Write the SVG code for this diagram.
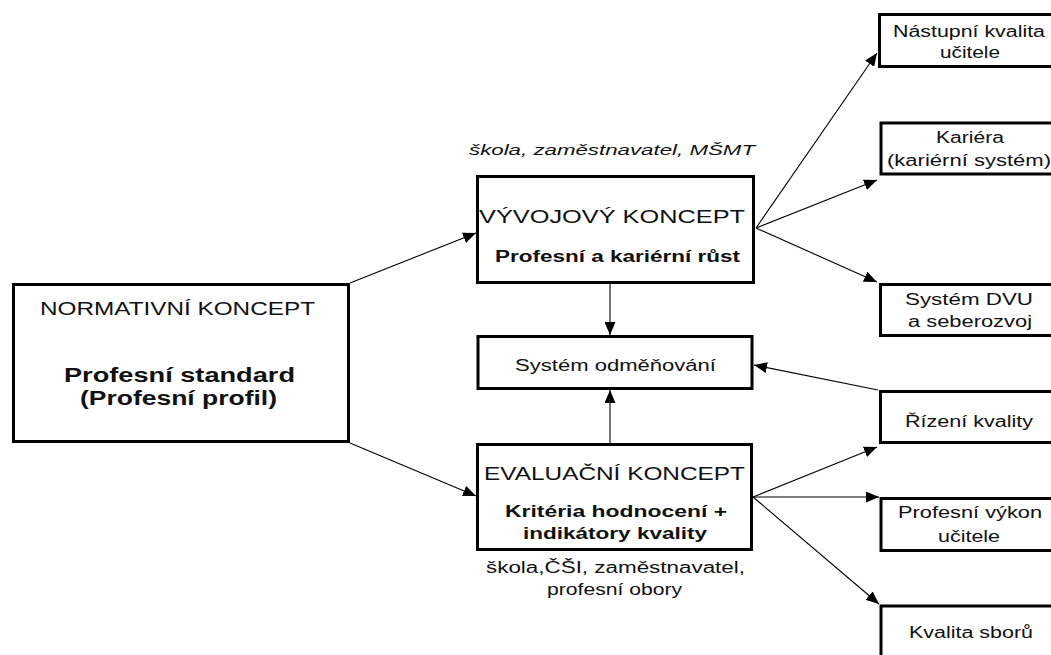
<svg xmlns="http://www.w3.org/2000/svg" width="1051" height="655" viewBox="0 0 1051 655">
<style>
text{font-family:"Liberation Sans",Arial,sans-serif;fill:#111}
.box{fill:#fff;stroke:#000;stroke-width:3}
.t18{font-size:18px}
.t16{font-size:16px}
.b{font-weight:bold}
.i{font-style:italic;font-size:15px}
.ln{stroke:#000;stroke-width:1.1;fill:none;marker-end:url(#ah)}
</style>
<defs>
<marker id="ah" markerUnits="userSpaceOnUse" markerWidth="13" markerHeight="11" refX="13" refY="5.5" orient="auto">
<path d="M0,0 L13,5.5 L0,11 z" fill="#000"/>
</marker>
</defs>
<rect width="1051" height="655" fill="#fff"/>
<g id="connectors">
<line class="ln" x1="350" y1="283" x2="476" y2="233"/>
<line class="ln" x1="350" y1="443" x2="476" y2="496"/>
<line class="ln" x1="756" y1="228" x2="877" y2="53"/>
<line class="ln" x1="756" y1="228" x2="877" y2="180"/>
<line class="ln" x1="756" y1="228" x2="877" y2="282"/>
<line class="ln" x1="610" y1="284" x2="610" y2="335"/>
<line class="ln" x1="610" y1="443" x2="610" y2="390"/>
<line class="ln" x1="878" y1="390" x2="754" y2="365"/>
<line class="ln" x1="753" y1="497" x2="877" y2="447"/>
<line class="ln" x1="753" y1="497" x2="879" y2="497"/>
<line class="ln" x1="753" y1="497" x2="879" y2="604"/>
</g>
<g id="normativni">
<rect class="box" x="13.5" y="284.5" width="335" height="157"/>
<text class="t18" x="40" y="315" textLength="275" lengthAdjust="spacingAndGlyphs">NORMATIVNÍ KONCEPT</text>
<text class="b" font-size="20" x="64" y="382" textLength="231" lengthAdjust="spacingAndGlyphs">Profesní standard</text>
<text class="b" font-size="20" x="80" y="405" textLength="197" lengthAdjust="spacingAndGlyphs">(Profesní profil)</text>
</g>
<g id="vyvojovy">
<text class="i" x="469" y="155" textLength="286" lengthAdjust="spacingAndGlyphs">škola, zaměstnavatel, MŠMT</text>
<rect class="box" x="477.5" y="176.5" width="276" height="106"/>
<text class="t18" x="479" y="223" textLength="266" lengthAdjust="spacingAndGlyphs">VÝVOJOVÝ KONCEPT</text>
<text class="b t16" x="495" y="262" textLength="245" lengthAdjust="spacingAndGlyphs">Profesní a kariérní růst</text>
</g>
<g id="odmenovani">
<rect class="box" x="478" y="336.5" width="274" height="52"/>
<text class="t16" x="515" y="371" textLength="201" lengthAdjust="spacingAndGlyphs">Systém odměňování</text>
</g>
<g id="evaluacni">
<rect class="box" x="477.5" y="444.5" width="274" height="105"/>
<text class="t18" x="484" y="480" textLength="261" lengthAdjust="spacingAndGlyphs">EVALUAČNÍ KONCEPT</text>
<text class="b t16" x="505" y="517" textLength="222" lengthAdjust="spacingAndGlyphs">Kritéria hodnocení +</text>
<text class="b t16" x="523" y="539" textLength="184" lengthAdjust="spacingAndGlyphs">indikátory kvality</text>
<text class="t16" x="486" y="573" textLength="259" lengthAdjust="spacingAndGlyphs">škola,ČŠI, zaměstnavatel,</text>
<text class="t16" x="547" y="595" textLength="135" lengthAdjust="spacingAndGlyphs">profesní obory</text>
</g>
<g id="nastupni">
<rect class="box" x="879.5" y="14.5" width="200" height="52"/>
<text class="t16" x="893" y="37" textLength="152" lengthAdjust="spacingAndGlyphs">Nástupní kvalita</text>
<text class="t16" x="940" y="58" textLength="60" lengthAdjust="spacingAndGlyphs">učitele</text>
</g>
<g id="kariera">
<rect class="box" x="881" y="123" width="200" height="51"/>
<text class="t16" x="936" y="143" textLength="68" lengthAdjust="spacingAndGlyphs">Kariéra</text>
<text class="t16" x="887" y="166" textLength="164" lengthAdjust="spacingAndGlyphs">(kariérní systém)</text>
</g>
<g id="dvu">
<rect class="box" x="880.5" y="284.5" width="200" height="51"/>
<text class="t16" x="905" y="305" textLength="128" lengthAdjust="spacingAndGlyphs">Systém DVU</text>
<text class="t16" x="908" y="327" textLength="124" lengthAdjust="spacingAndGlyphs">a seberozvoj</text>
</g>
<g id="rizeni">
<rect class="box" x="880.5" y="391.5" width="200" height="51"/>
<text class="t16" x="905" y="427" textLength="128" lengthAdjust="spacingAndGlyphs">Řízení kvality</text>
</g>
<g id="vykon">
<rect class="box" x="881" y="498.5" width="200" height="52"/>
<text class="t16" x="898" y="518" textLength="144" lengthAdjust="spacingAndGlyphs">Profesní výkon</text>
<text class="t16" x="938" y="542" textLength="62" lengthAdjust="spacingAndGlyphs">učitele</text>
</g>
<g id="sbory">
<rect class="box" x="881" y="606" width="200" height="80"/>
<text class="t16" x="909" y="638" textLength="124" lengthAdjust="spacingAndGlyphs">Kvalita sborů</text>
</g>
</svg>
